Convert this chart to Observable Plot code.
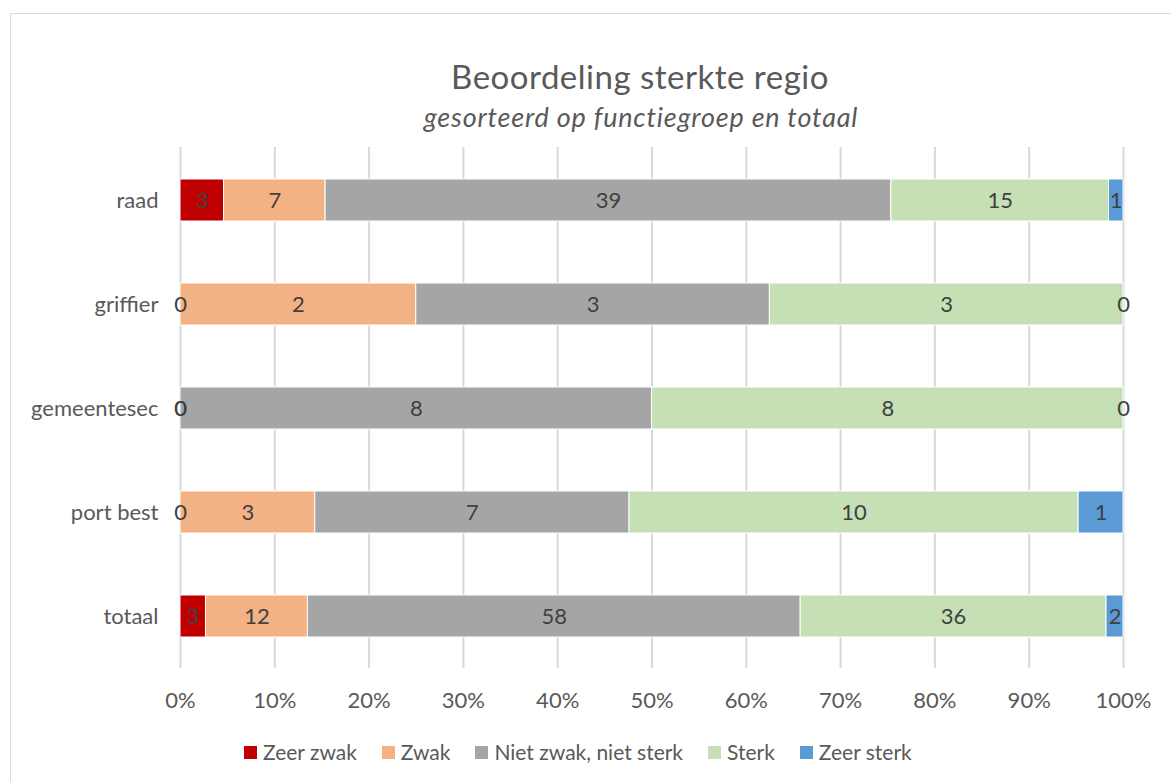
<!DOCTYPE html>
<html>
<head>
<meta charset="utf-8">
<script src="https://cdn.jsdelivr.net/npm/d3@7"></script>
<script src="https://cdn.jsdelivr.net/npm/@observablehq/plot@0.6"></script>
<style>
  html, body { margin: 0; padding: 0; background: white; }
  #wrap { position: relative; width: 1171px; height: 782px; overflow: hidden; font-family: Lato, "Open Sans", sans-serif; color: #595959; }
  #frame { position: absolute; left: 10px; top: 13px; width: 1200px; height: 800px; border: 1px solid #d9d9d9; box-sizing: border-box; }
  #title { position: absolute; left: 0; width: 1280px; top: 55px; text-align: center; font-size: 33px; line-height: 42px; letter-spacing: 0.5px; }
  #subtitle { position: absolute; left: 0; width: 1282px; top: 99px; text-align: center; font-size: 27px; line-height: 36px; letter-spacing: 0.8px; font-style: italic; }
  #chart { position: absolute; left: 0; top: 0; }
  #legend { position: absolute; left: 244px; top: 738px; display: flex; gap: 25px; font-size: 21px; line-height: 28px; }
  .item { display: flex; align-items: center; gap: 6px; }
  .sw { width: 13px; height: 13px; display: inline-block; }
</style>
</head>
<body>
<div id="wrap">
  <div id="frame"></div>
  <div id="chart"></div>
  <div id="title">Beoordeling sterkte regio</div>
  <div id="subtitle">gesorteerd op functiegroep en totaal</div>
  <div id="legend"></div>
</div>
<script>
const categories = ["raad", "griffier", "gemeentesec", "port best", "totaal"];
const series = ["Zeer zwak", "Zwak", "Niet zwak, niet sterk", "Sterk", "Zeer sterk"];
const zeerZwak  = [3, 0, 0, 0, 3];
const zwak      = [7, 2, 0, 3, 12];
const nietZwak  = [39, 3, 8, 7, 58];
const sterk     = [15, 3, 8, 10, 36];
const zeerSterk = [1, 0, 0, 1, 2];
const colors = ["#C00000", "#F4B183", "#A5A5A5", "#C5E0B4", "#5B9BD5"];
const xTicks = [0, 0.1, 0.2, 0.3, 0.4, 0.5, 0.6, 0.7, 0.8, 0.9, 1];

const seriesValues = [zeerZwak, zwak, nietZwak, sterk, zeerSterk];
const table = [];
categories.forEach((cat, i) => {
  series.forEach((s, j) => {
    table.push({cat, series: s, value: seriesValues[j][i]});
  });
});

const chart = Plot.plot({
  width: 1171,
  height: 720,
  marginLeft: 180,
  marginRight: 48,
  marginTop: 147,
  marginBottom: 52,
  style: {fontFamily: "Lato, 'Open Sans', sans-serif", fontSize: "22px", color: "#595959", background: "transparent", overflow: "visible"},
  x: {domain: [0, 1], label: null},
  y: {domain: categories, paddingInner: 0.6, paddingOuter: 0.3, label: null},
  color: {domain: series, range: colors},
  marks: [
    Plot.gridX(xTicks, {stroke: "#d9d9d9", strokeOpacity: 1, strokeWidth: 2}),
    Plot.barX(table, Plot.stackX({x: "value", y: "cat", fill: "series", z: "series", order: series, offset: "normalize", stroke: "white", strokeWidth: 1})),
    Plot.textX(table, Plot.stackX({x: "value", y: "cat", z: "series", order: series, offset: "normalize", text: "value", fill: "#404040", fontSize: 22})),
    Plot.axisX(xTicks, {tickSize: 0, tickPadding: 24, tickFormat: d => Math.round(d * 100) + "%", label: null, fill: "#595959", fontSize: 22}),
    Plot.axisY(categories, {tickSize: 0, tickPadding: 22, label: null, fill: "#595959", fontSize: 22})
  ]
});
document.getElementById("chart").appendChild(chart);

const legend = document.getElementById("legend");
series.forEach((s, j) => {
  const it = document.createElement("div");
  it.className = "item";
  const sw = document.createElement("span");
  sw.className = "sw";
  sw.style.background = colors[j];
  const t = document.createElement("span");
  t.textContent = s;
  it.appendChild(sw);
  it.appendChild(t);
  legend.appendChild(it);
});
</script>
</body>
</html>
